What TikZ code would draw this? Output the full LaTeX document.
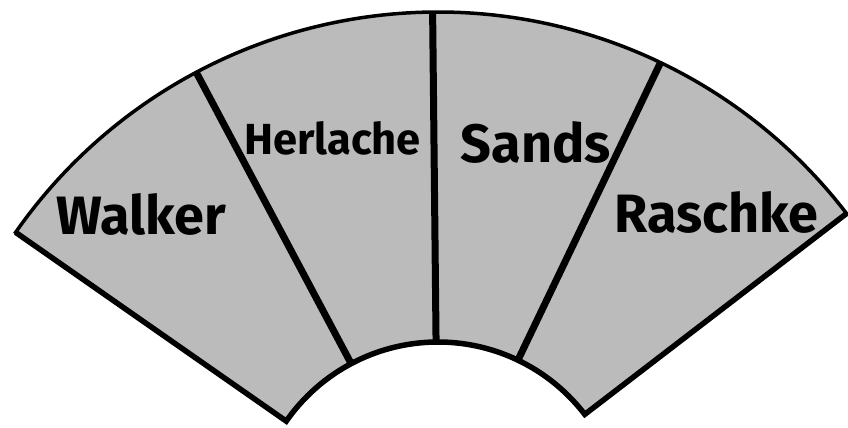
\documentclass[tikz,border=0pt]{standalone}
\usepackage{fontspec}
\setmainfont{Fira Sans}
\usetikzlibrary{calc}
\definecolor{figGray}{RGB}{187,187,187}
\tikzset{band/.style={fill=figGray, draw=black, line width=3.5pt, line join=miter},
  rim/.style={line width=5.5pt, line join=miter},
  divider/.style={line width=7pt},
  bigname/.style={font=\fontsize{54}{60}\selectfont\bfseries, anchor=base, inner sep=0pt},
  smallname/.style={font=\fontsize{43.5}{50}\selectfont\bfseries, anchor=base, inner sep=0pt}}

\begin{document}
\begin{tikzpicture}[x=1pt, y=1pt]
\useasboundingbox (0,0) rectangle (848,428);
% centre of the fan, outer and inner radius
\coordinate (C) at (438,-99);
\def\Rout{515}
\def\Rin{185}
% the grey band
\draw[band] ($(C)+(37.5:\Rout)$) arc[start angle=37.5, end angle=145.1, radius=\Rout]
  -- ($(C)+(145.1:\Rin)$) arc[start angle=145.1, end angle=37.5, radius=\Rin] -- cycle;
% heavier sides and inner edge
\draw[rim] ($(C)+(145.1:\Rout)$) -- ($(C)+(145.1:\Rin)$)
  arc[start angle=145.1, end angle=37.5, radius=\Rin] -- ($(C)+(37.5:\Rout)$);
% dividers between the four parts
\foreach \a in {64.4, 90.6, 118.0}
  \draw[divider] ($(C)+(\a:\Rin)$) -- ($(C)+(\a:\Rout)$);
% names
\node[bigname] (walker) at (141.5,193) {Walker};
\node[smallname] (herlache) at (332.5,273) {Herlache};
\node[bigname] (sands) at (536,265) {Sands};
\node[bigname] (raschke) at (716.5,195) {Raschke};
\end{tikzpicture}
\end{document}
